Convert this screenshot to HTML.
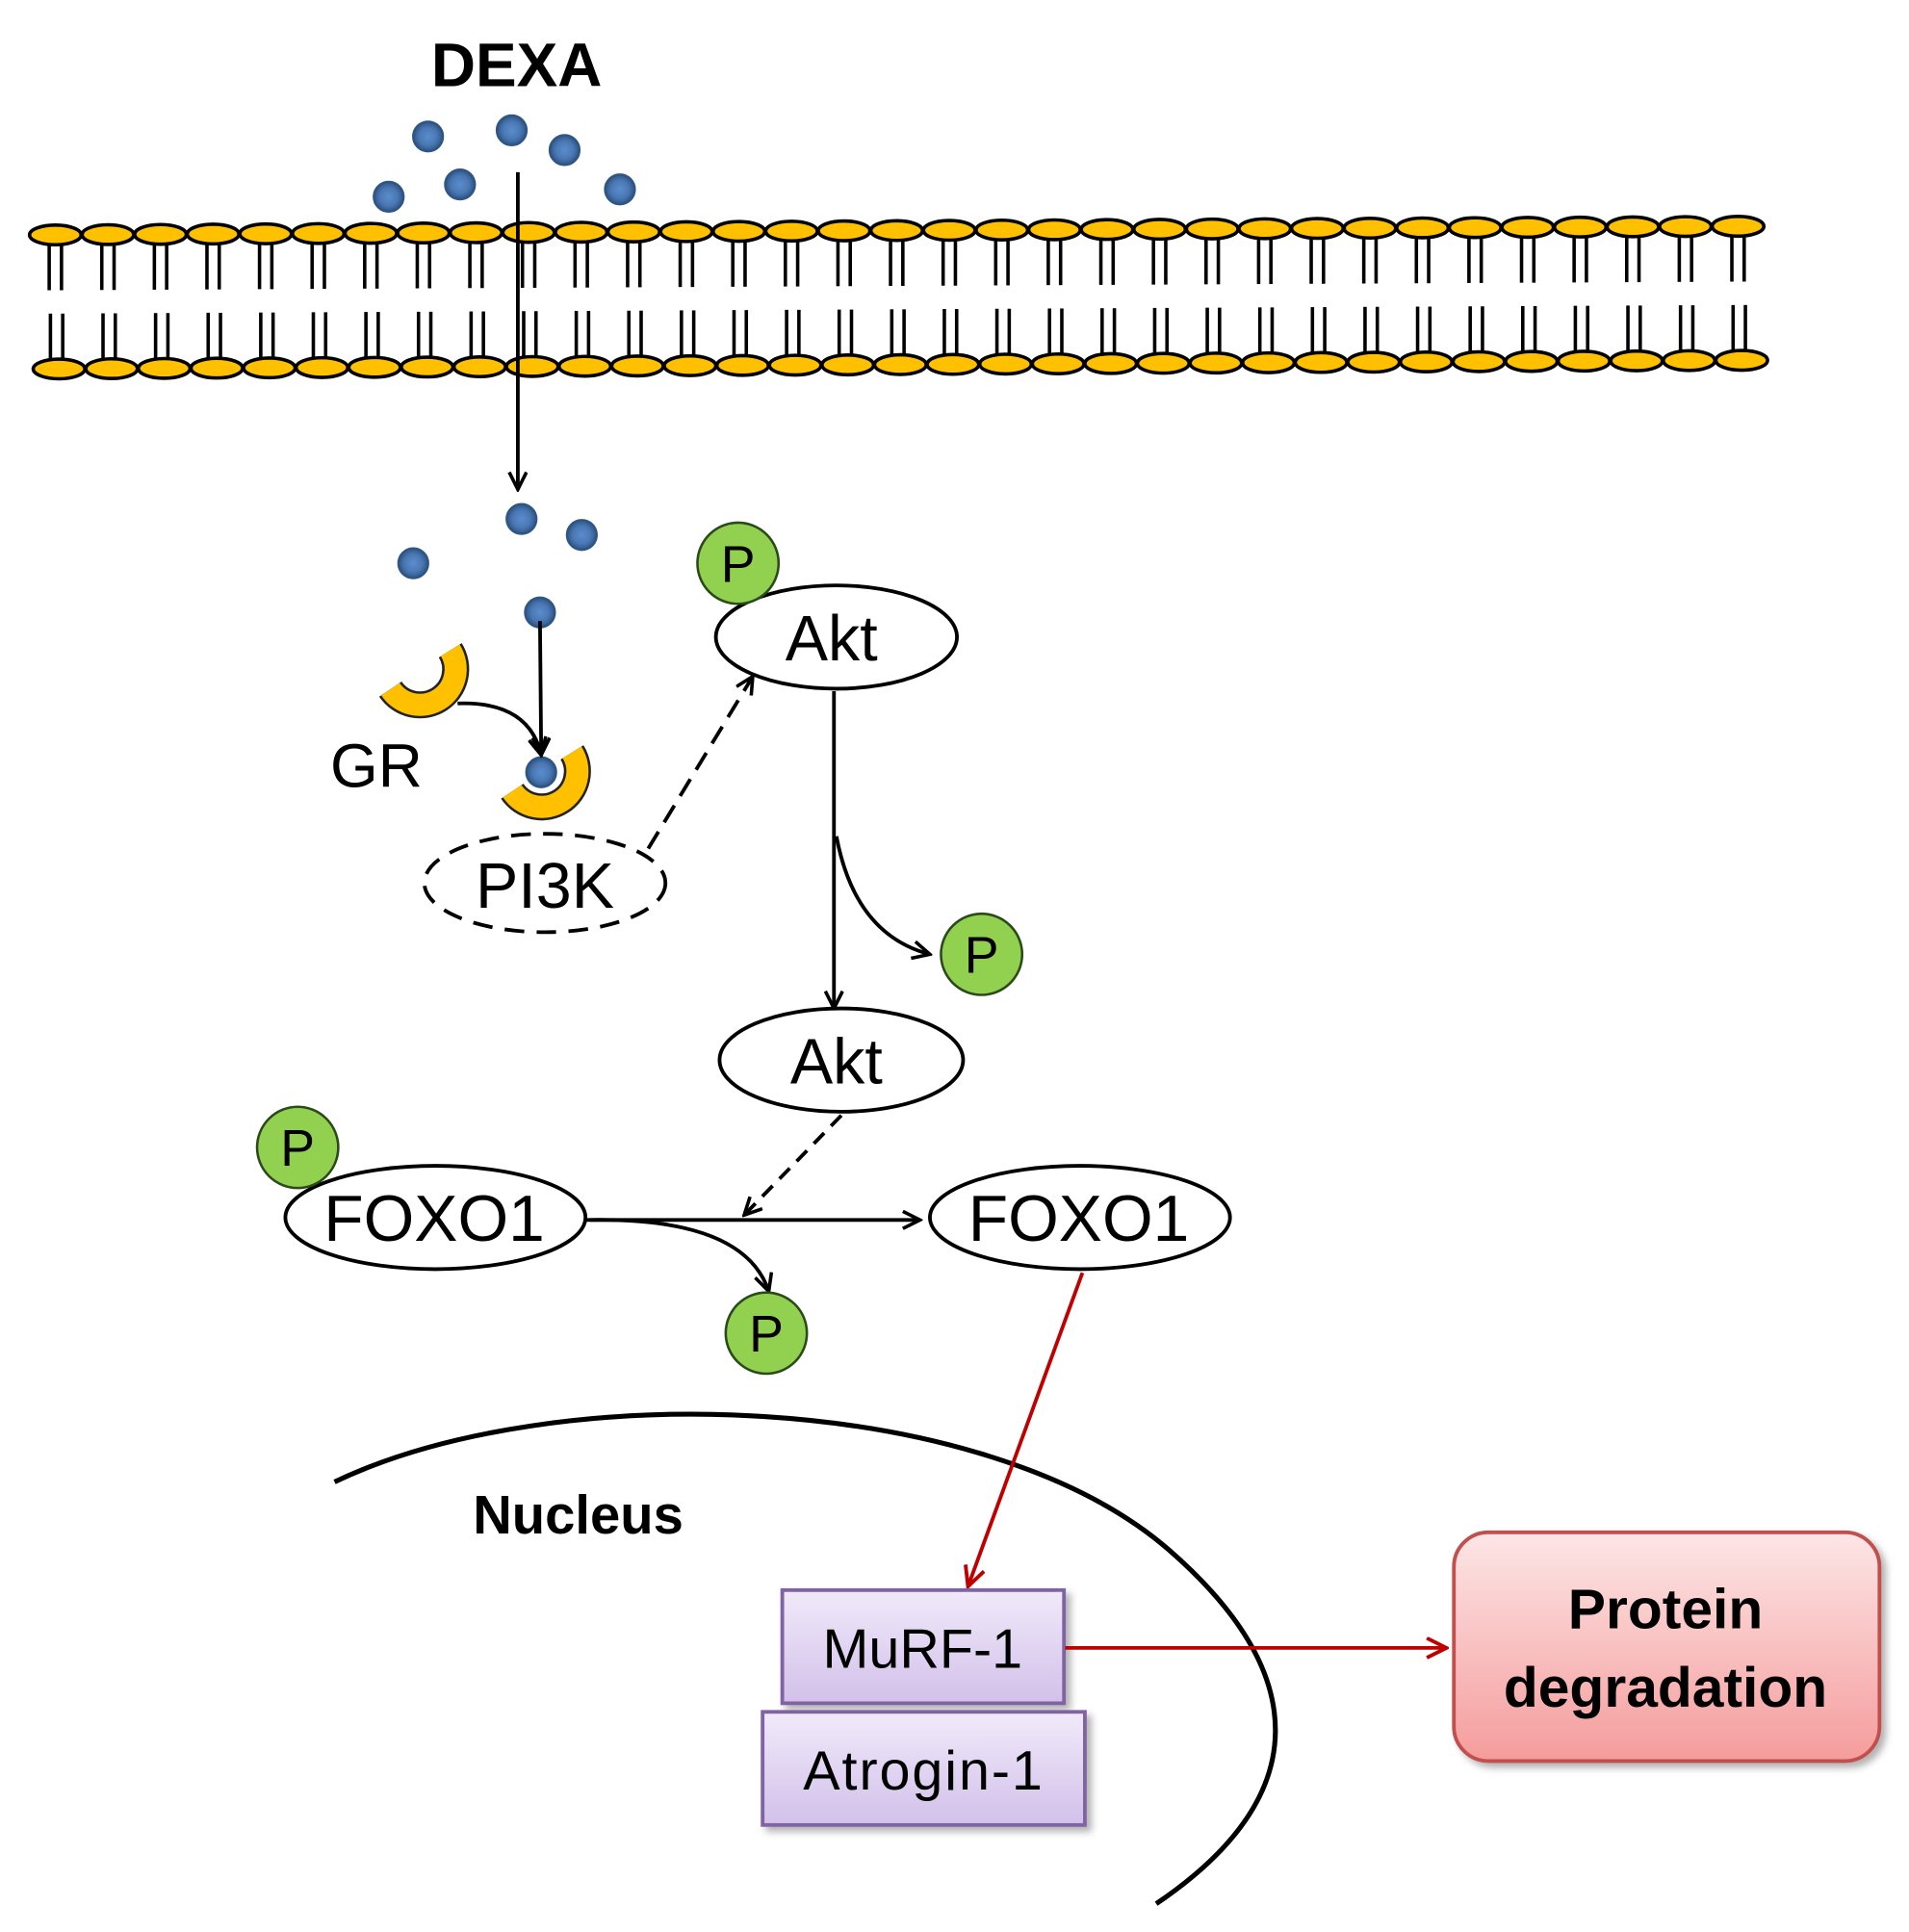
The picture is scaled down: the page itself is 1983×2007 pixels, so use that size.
<!DOCTYPE html>
<html><head><meta charset="utf-8"><style>
html,body{margin:0;padding:0;background:#fff;}
svg{display:block;}
text{font-family:"Liberation Sans",Arial,sans-serif;}
</style></head><body>
<svg id="s" width="1983" height="2007" viewBox="0 0 1552 1571" preserveAspectRatio="none" xmlns="http://www.w3.org/2000/svg">
<defs>
<marker id="ahb" markerWidth="18" markerHeight="16" refX="16" refY="8" orient="auto" markerUnits="userSpaceOnUse">
<path d="M2,1 L16,8 L2,15" fill="none" stroke="#000" stroke-width="2.8"/></marker>
<marker id="ahr" markerWidth="20" markerHeight="18" refX="18" refY="9" orient="auto" markerUnits="userSpaceOnUse">
<path d="M2,1 L18,9 L2,17" fill="none" stroke="#c00000" stroke-width="3"/></marker>
<radialGradient id="dot" cx="0.5" cy="0.5" r="0.5"><stop offset="0" stop-color="#5b8ccc"/><stop offset="0.6" stop-color="#4a78b4"/><stop offset="1" stop-color="#2f5585"/></radialGradient>
<linearGradient id="pur" x1="0" y1="0" x2="0" y2="1"><stop offset="0" stop-color="#f1eafa"/><stop offset="1" stop-color="#d2c0ea"/></linearGradient>
<linearGradient id="red" x1="0" y1="0" x2="0" y2="1"><stop offset="0" stop-color="#fde6e6"/><stop offset="1" stop-color="#f59c9c"/></linearGradient>
<filter id="sh" x="-10%" y="-10%" width="130%" height="130%"><feDropShadow dx="4" dy="4" stdDeviation="3" flood-color="#000" flood-opacity="0.3"/></filter>
</defs>
<g id="mem"></g>

<text x="420" y="70" font-size="50" font-weight="bold" text-anchor="middle">DEXA</text>

<g id="dots"></g>

<line x1="421" y1="140" x2="421" y2="398" stroke="#000" stroke-width="3" marker-end="url(#ahb)"/>

<g id="cres"></g>
<text x="306" y="640" font-size="50" text-anchor="middle">GR</text>
<path d="M372,572 Q430,570 440,614" fill="none" stroke="#000" stroke-width="3" marker-end="url(#ahb)"/>
<line x1="439" y1="505" x2="440" y2="614" stroke="#000" stroke-width="3" marker-end="url(#ahb)"/>

<ellipse cx="443" cy="718" rx="98" ry="40" fill="#fff" stroke="#000" stroke-width="3" stroke-dasharray="16,10"/>
<text x="443" y="738" font-size="52" text-anchor="middle">PI3K</text>
<line x1="527" y1="690" x2="612" y2="550" stroke="#000" stroke-width="3" stroke-dasharray="16,9" marker-end="url(#ahb)"/>

<ellipse cx="680" cy="518" rx="98" ry="42" fill="#fff" stroke="#000" stroke-width="3"/>
<text x="676" y="537" font-size="52" text-anchor="middle">Akt</text>
<line x1="678" y1="562" x2="678" y2="820" stroke="#000" stroke-width="3" marker-end="url(#ahb)"/>
<path d="M680,680 Q695,760 756,776" fill="none" stroke="#000" stroke-width="3" marker-end="url(#ahb)"/>

<ellipse cx="684" cy="862" rx="99" ry="42" fill="#fff" stroke="#000" stroke-width="3"/>
<text x="680" y="881" font-size="52" text-anchor="middle">Akt</text>
<line x1="684" y1="907" x2="605" y2="988" stroke="#000" stroke-width="3" stroke-dasharray="12,8" marker-end="url(#ahb)"/>

<ellipse cx="354" cy="990" rx="122" ry="42" fill="#fff" stroke="#000" stroke-width="3"/>
<text x="353" y="1009" font-size="53" text-anchor="middle">FOXO1</text>
<line x1="477" y1="992" x2="748" y2="992" stroke="#000" stroke-width="3" marker-end="url(#ahb)"/>
<path d="M480,992 Q605,990 625,1050" fill="none" stroke="#000" stroke-width="3" marker-end="url(#ahb)"/>
<ellipse cx="878" cy="990" rx="122" ry="42" fill="#fff" stroke="#000" stroke-width="3"/>
<text x="877" y="1009" font-size="53" text-anchor="middle">FOXO1</text>

<g id="ps"></g>

<path d="M272,1205 C450,1120 800,1130 950,1260 C1065,1360 1070,1460 940,1548" fill="none" stroke="#000" stroke-width="4"/>
<text x="470" y="1247" font-size="44" font-weight="bold" text-anchor="middle">Nucleus</text>

<line x1="880" y1="1035" x2="787" y2="1290" stroke="#c00000" stroke-width="3" marker-end="url(#ahr)"/>

<rect x="636" y="1293" width="229" height="92" fill="url(#pur)" stroke="#8064a2" stroke-width="3" filter="url(#sh)"/>
<text x="750" y="1356" font-size="45" text-anchor="middle">MuRF-1</text>
<rect x="620" y="1392" width="262" height="92" fill="url(#pur)" stroke="#8064a2" stroke-width="3" filter="url(#sh)"/>
<text x="751" y="1455" font-size="45" text-anchor="middle" letter-spacing="1.5">Atrogin-1</text>

<line x1="866" y1="1340" x2="1176" y2="1340" stroke="#c00000" stroke-width="3" marker-end="url(#ahr)"/>

<rect x="1182" y="1246" width="346" height="186" rx="28" fill="url(#red)" stroke="#c0504d" stroke-width="3" filter="url(#sh)"/>
<text x="1354" y="1324" font-size="46" font-weight="bold" text-anchor="middle">Protein</text>
<text x="1354" y="1388" font-size="46" font-weight="bold" text-anchor="middle">degradation</text>
</svg>
<script>
var NS="http://www.w3.org/2000/svg";
function el(p,t,a,txt){var e=document.createElementNS(NS,t);for(var k in a)e.setAttribute(k,a[k]);if(txt)e.textContent=txt;p.appendChild(e);return e;}
var mem=document.getElementById('mem');
var n=33;
for(var i=0;i<n;i++){
 var x=45+i*(1368/(n-1));
 var t=i/(n-1);
 var yt=191-7*t, yb=300-7*t;
 el(mem,'line',{x1:x-5,y1:yt,x2:x-5,y2:yt+45,stroke:'#000','stroke-width':2.8});
 el(mem,'line',{x1:x+5,y1:yt,x2:x+5,y2:yt+45,stroke:'#000','stroke-width':2.8});
 el(mem,'line',{x1:x-4,y1:yb-45,x2:x-4,y2:yb,stroke:'#000','stroke-width':2.8});
 el(mem,'line',{x1:x+6,y1:yb-45,x2:x+6,y2:yb,stroke:'#000','stroke-width':2.8});
 el(mem,'ellipse',{cx:x,cy:yt,rx:21,ry:8,fill:'#ffc000',stroke:'#000','stroke-width':2.8});
 el(mem,'ellipse',{cx:x+3,cy:yb,rx:21,ry:8,fill:'#ffc000',stroke:'#000','stroke-width':2.8});
}
var dots=document.getElementById('dots');
[[348,111],[416,106],[459,122],[316,160],[374,150],[504,154],[424,422],[473,435],[336,458],[439,498]].forEach(function(d){
 el(dots,'circle',{cx:d[0],cy:d[1],r:12,fill:'url(#dot)',stroke:'#2f5585','stroke-width':2});
});
var cres=document.getElementById('cres');
function crescent(cx,cy){
 var r=29,a1=-34*Math.PI/180,a2=148*Math.PI/180;
 var d='M'+(cx+r*Math.cos(a1))+','+(cy+r*Math.sin(a1))+' A'+r+','+r+' 0 0 1 '+(cx+r*Math.cos(a2))+','+(cy+r*Math.sin(a2));
 el(cres,'path',{d:d,fill:'none',stroke:'#222','stroke-width':22});
 el(cres,'path',{d:d,fill:'none',stroke:'#ffc000','stroke-width':18});
}
crescent(342,545);
crescent(441,628);
el(cres,'circle',{cx:440,cy:628,r:12,fill:'url(#dot)',stroke:'#2f5585','stroke-width':2});
var ps=document.getElementById('ps');
[[600,458],[798,776],[242,933],[623,1084]].forEach(function(p){
 el(ps,'circle',{cx:p[0],cy:p[1],r:33,fill:'#92d050',stroke:'#2a4a1a','stroke-width':2});
 el(ps,'text',{x:p[0],y:p[1]+15,'font-size':42,'text-anchor':'middle'},'P');
});
</script>
</body></html>
